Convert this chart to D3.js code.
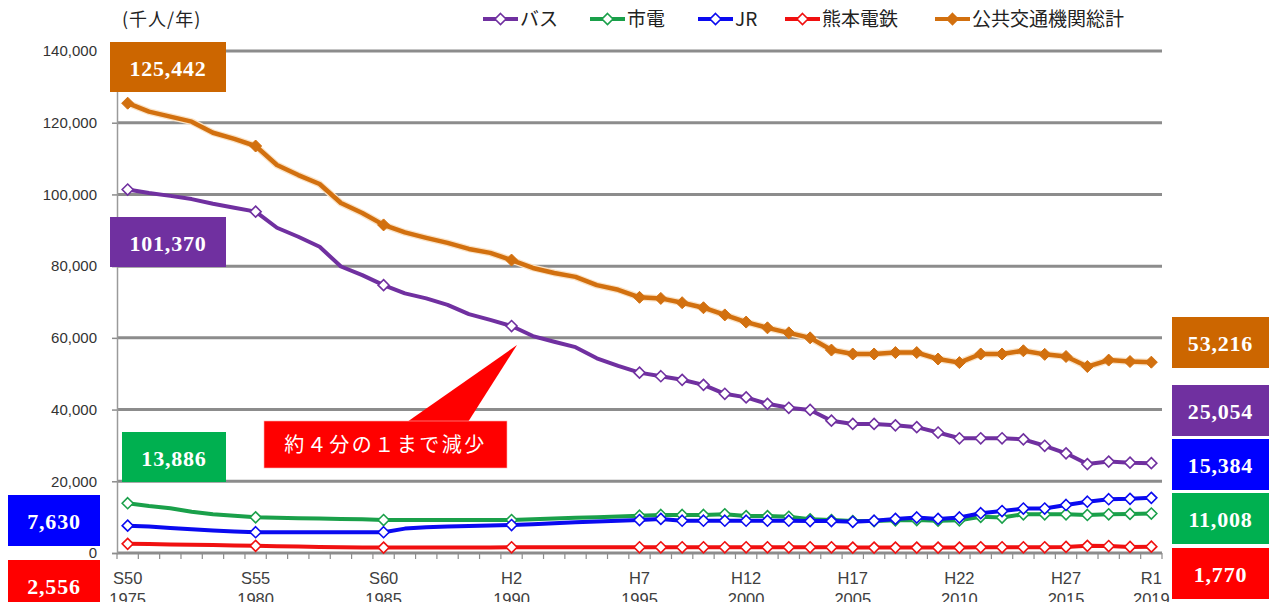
<!DOCTYPE html>
<html><head><meta charset="utf-8">
<script src="https://cdn.jsdelivr.net/npm/d3@7"></script>
<style>body{margin:0;background:#fff}svg{display:block}</style>
</head><body><svg id="c" width="1269" height="602"></svg>
<script>
// ---- data ----
const categories = ["S50","","","","","","S55","","","","","","S60","","","","","","H2","","","","","","H7",
 "H8","H9","H10","H11","H12","H13","H14","H15","H16","H17","H18","H19","H20","H21","H22","H23","H24","H25","H26","H27","H28","H29","H30","R1"];
const tickIndex = [0,6,12,18,24,29,34,39,44,48];
const tickEra = ["S50","S55","S60","H2","H7","H12","H17","H22","H27","R1"];
const tickYear = ["1975","1980","1985","1990","1995","2000","2005","2010","2015","2019"];
const markerIndex = [0,6,12,18,24,25,26,27,28,29,30,31,32,33,34,35,36,37,38,39,40,41,42,43,44,45,46,47,48];
const yTicks = [0,20000,40000,60000,80000,100000,120000,140000];
const seriesNames = ["バス","市電","JR","熊本電鉄","公共交通機関総計"];
const bus = [101370,100400,99600,98700,97400,96300,95200,90700,88200,85400,79900,77500,74700,
 72400,71000,69200,66600,65000,63300,60500,58900,57400,54300,52200,50300,
 49300,48300,46900,44400,43400,41600,40500,39900,36900,36000,36000,35600,35100,33600,32000,
 32000,32000,31700,29900,27800,24800,25500,25200,25054];
const tram = [13886,13100,12500,11500,10800,10400,9950,9800,9700,9600,9500,9400,9200,
 9200,9200,9200,9200,9200,9200,9400,9600,9800,10000,10200,10400,
 10600,10600,10600,10800,10300,10300,10100,9400,9200,8900,8900,9100,9200,9000,9100,
 10100,9900,10800,10800,10800,10600,10800,10900,11008];
const jr = [7630,7400,7000,6600,6300,6000,5800,5800,5800,5800,5800,5800,5800,
 6800,7200,7400,7500,7700,7800,8000,8300,8600,8800,9000,9200,
 9500,9000,9000,9000,9000,9000,9000,8900,8900,8700,9000,9500,9900,9500,9900,
 11100,11700,12400,12400,13400,14300,15000,15100,15384];
const kumaden = [2556,2500,2400,2300,2200,2100,2000,1900,1800,1700,1600,1550,1500,
 1500,1500,1500,1500,1500,1600,1600,1600,1600,1600,1600,1600,
 1600,1600,1600,1600,1600,1600,1600,1600,1600,1500,1500,1500,1500,1500,1500,
 1600,1600,1600,1600,1700,2000,1950,1700,1770];
const total = [125442,123100,121700,120300,117200,115500,113500,108200,105400,102900,97600,94800,91500,
 89400,87900,86500,84800,83700,81700,79500,78100,77000,74700,73400,71300,
 71000,69800,68400,66400,64400,62800,61400,60000,56600,55500,55500,55900,55900,54100,53100,
 55500,55500,56400,55400,54800,52000,53800,53400,53216];
const startLabels = ["125,442","101,370","13,886","7,630","2,556"];
const endLabels = ["53,216","25,054","15,384","11,008","1,770"];
const callout = "約４分の１まで減少";
const unitLabel = "(千人/年)";

// ---- styles ----
const colors = ["#7030A0","#1AA04A","#0A0AF0","#F01010","#D2700F"];
const boxColors = {orange:"#CC6600",purple:"#7030A0",green:"#00B050",blue:"#0000FF",red:"#FF0000"};
const svg = d3.select("#c");
const x = d3.scaleBand().domain(d3.range(categories.length)).range([117,1162]);
const y = d3.scaleLinear().domain([0,140000]).range([553,51]);
const cx = i => x(i) + x.bandwidth()/2;

// grid
svg.append("g").selectAll("line").data(yTicks).join("line")
 .attr("x1",117).attr("x2",1162).attr("y1",d=>y(d)).attr("y2",d=>y(d))
 .attr("stroke","#8C8C8C").attr("stroke-width",3);
// y axis
const ya = svg.append("g").attr("transform","translate(117,0)")
 .call(d3.axisLeft(y).tickValues(yTicks).tickSize(5).tickPadding(15).tickFormat(d3.format(",")));
ya.select(".domain").attr("stroke","#9a9a9a").attr("stroke-width",1.5);
ya.selectAll(".tick line").attr("stroke","#8C8C8C").attr("stroke-width",1.5);
ya.selectAll(".tick text").attr("font-family","Liberation Sans, Arial").attr("font-size",15).attr("fill","#333");
// x ticks
svg.append("g").selectAll("line").data(d3.range(categories.length+1)).join("line")
 .attr("x1",i=>117+i*x.bandwidth()).attr("x2",i=>117+i*x.bandwidth())
 .attr("y1",553).attr("y2",559).attr("stroke","#8C8C8C").attr("stroke-width",1.2);
const xl = svg.append("g").attr("font-family","Liberation Sans, Arial").attr("font-size",16.5).attr("fill","#404040").attr("text-anchor","middle");
xl.selectAll("text.e").data(tickIndex).join("text").attr("class","e")
 .attr("x",i=>cx(i)).attr("y",584).text((d,k)=>tickEra[k]);
xl.selectAll("text.y").data(tickIndex).join("text").attr("class","y")
 .attr("x",i=>cx(i)).attr("y",605).text((d,k)=>tickYear[k]);

// lines
const seriesData = [bus,tram,jr,kumaden,total];
const line = d3.line().x((d,i)=>cx(i)).y(d=>y(d));
const diamond = (s)=>`M0,${-s}L${s},0L0,${s}L${-s},0Z`;
seriesData.forEach((data,si)=>{
  const g = svg.append("g");
  if(si===4){
    g.append("path").attr("d",line(data)).attr("fill","none").attr("stroke","#FBE3C6")
     .attr("stroke-width",7).attr("stroke-linejoin","round");
  }
  g.append("path").attr("d",line(data)).attr("fill","none").attr("stroke",colors[si])
   .attr("stroke-width",si===4?4.5:4).attr("stroke-linejoin","round").attr("stroke-linecap","round");
  g.selectAll("path.m").data(markerIndex).join("path").attr("class","m")
   .attr("transform",i=>`translate(${cx(i)},${y(data[i])})`)
   .attr("d",si===4?diamond(6):diamond(5.5))
   .attr("fill",si===4?colors[4]:"#fff").attr("stroke",colors[si]).attr("stroke-width",si===4?1:1.6);
});

// legend
const legX = [483,590,698,785,935];
const lg = svg.append("g").attr("font-family","Noto Sans CJK JP").attr("font-size",19).attr("fill","#222");
seriesNames.forEach((n,k)=>{
  const g = lg.append("g").attr("transform",`translate(${legX[k]},19)`);
  g.append("line").attr("x1",0).attr("x2",35).attr("stroke",colors[k]).attr("stroke-width",4);
  g.append("path").attr("transform","translate(17.5,0)").attr("d",diamond(5.5))
   .attr("fill",k===4?colors[4]:"#fff").attr("stroke",colors[k]).attr("stroke-width",1.6);
  g.append("text").attr("x",37).attr("y",7).text(n);
});
svg.append("text").attr("x",122).attr("y",26).attr("font-family","Noto Sans CJK JP")
 .attr("font-size",18).attr("letter-spacing",1).attr("fill","#222").text(unitLabel);

// value boxes
const startBoxes = [
 {c:boxColors.orange,x:110,y:42,w:116,h:50},
 {c:boxColors.purple,x:110,y:217,w:116,h:50},
 {c:boxColors.green,x:122,y:432,w:104,h:50},
 {c:boxColors.blue,x:8,y:495,w:92,h:51},
 {c:boxColors.red,x:8,y:560,w:92,h:51}];
const endBoxes = [
 {c:boxColors.orange,x:1172,y:317,w:97,h:51},
 {c:boxColors.purple,x:1172,y:385,w:97,h:51},
 {c:boxColors.blue,x:1172,y:439,w:97,h:51},
 {c:boxColors.green,x:1172,y:493,w:97,h:51},
 {c:boxColors.red,x:1172,y:548,w:97,h:51}];
function boxes(defs,labels,dy){
  defs.forEach((b,k)=>{
    svg.append("rect").attr("x",b.x).attr("y",b.y).attr("width",b.w).attr("height",b.h).attr("fill",b.c);
    svg.append("text").attr("x",b.x+b.w/2).attr("y",b.y+dy).attr("text-anchor","middle")
     .attr("font-family","Liberation Serif, DejaVu Serif").attr("font-weight","bold").attr("font-size",22)
     .attr("letter-spacing",0.8).attr("fill","#fff").text(labels[k]);
  });
}
boxes(startBoxes,startLabels,34);
boxes(endBoxes,endLabels,34);

// callout
svg.append("path").attr("d","M407,422L468,422L517,345Z").attr("fill","#FF0000");
svg.append("rect").attr("x",264).attr("y",421).attr("width",243).attr("height",47)
 .attr("fill","#FF0000").attr("stroke","#ffb0b0").attr("stroke-width",0.6);
svg.append("text").attr("x",385.5).attr("y",452).attr("text-anchor","middle")
 .attr("font-family","Noto Sans CJK JP").attr("font-size",20).attr("letter-spacing",2.5)
 .attr("fill","#fff").text(callout);
</script></body></html>
